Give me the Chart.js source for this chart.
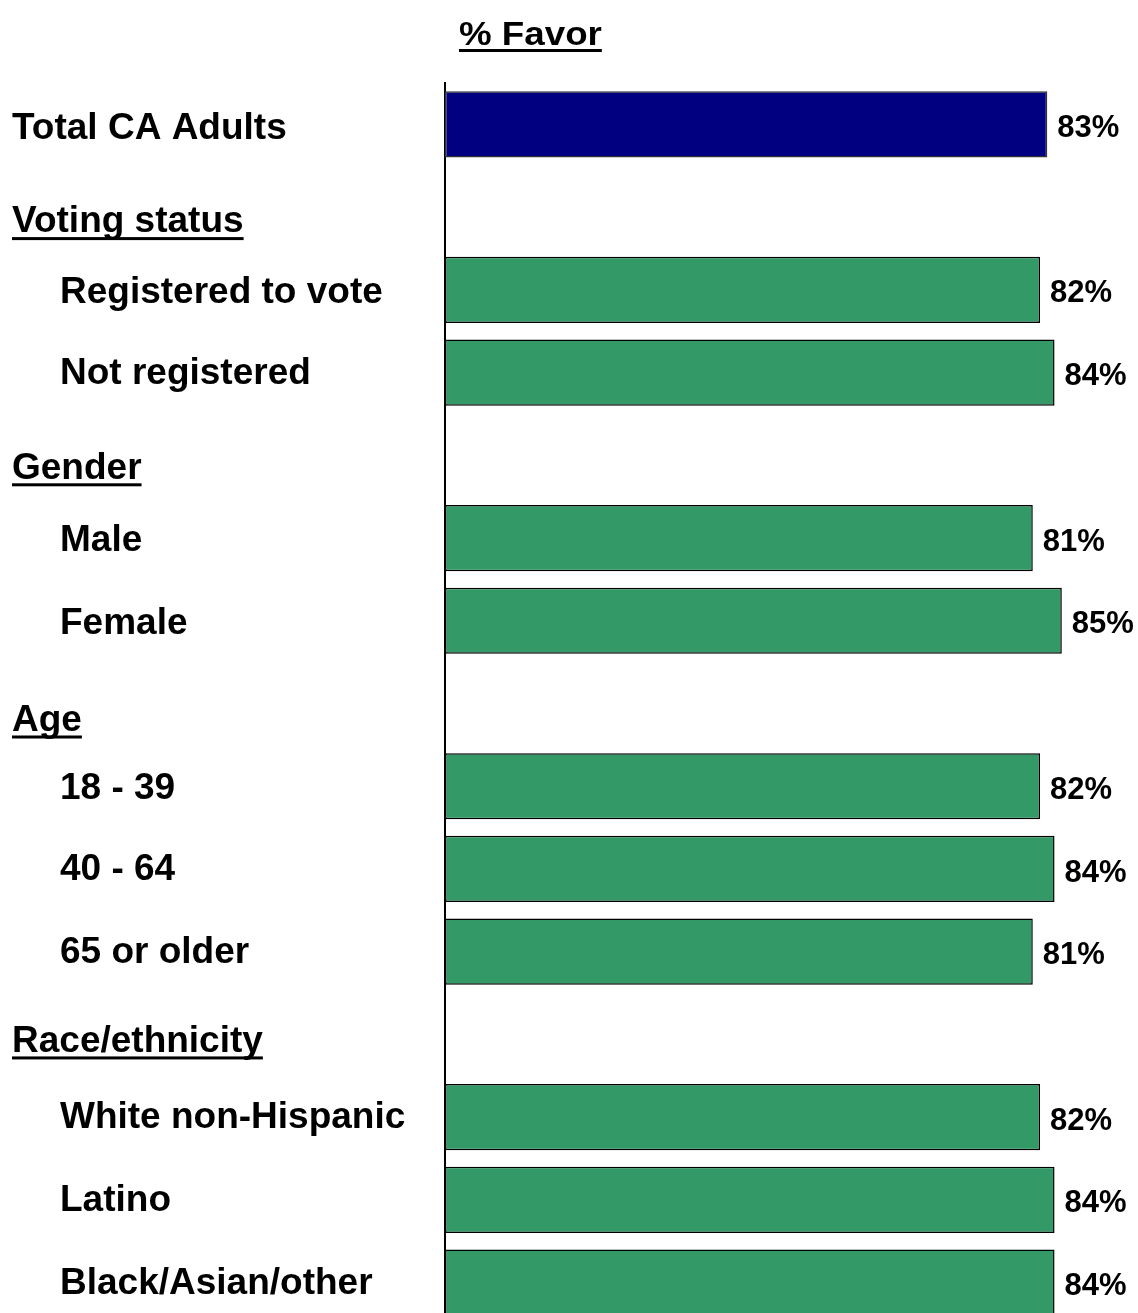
<!DOCTYPE html>
<html lang="en">
<head>
    <meta charset="UTF-8">
    <title>% Favor</title>
    <script src="https://cdn.jsdelivr.net/npm/chart.js"></script>
    <style>
        html, body {
            margin: 0;
            padding: 0;
            background: #ffffff;
            overflow: hidden;
        }

        .wrap {
            position: relative;
            width: 1138px;
            height: 1324px;
        }

        .titulo {
            position: absolute;
            left: 459px;
            top: 16px;
            font: bold 34px "Liberation Sans", Arial, sans-serif;
            line-height: 34px;
            text-decoration: underline;
            text-decoration-thickness: 3px;
            text-underline-offset: 4px;
            transform: scaleX(1.08);
            transform-origin: left top;
            white-space: nowrap;
        }
    </style>
</head>
<body>
    <div class="wrap">
        <div class="titulo">% Favor</div>
        <canvas id="grafico" width="1138" height="1324"></canvas>
    </div>

    <script>
        // categorias (de cima para baixo) e % a favor; null = linha de cabeçalho
        const categorias = ['Total CA Adults', 'Voting status', 'Registered to vote', 'Not registered',
            'Gender', 'Male', 'Female', 'Age', '18 - 39', '40 - 64', '65 or older',
            'Race/ethnicity', 'White non-Hispanic', 'Latino', 'Black/Asian/other'];
        const favor = [83, null, 82, 84, null, 81, 85, null, 82, 84, 81, null, 82, 84, 84];
        const cabecalho = [false, true, false, false, true, false, false, true, false, false, false, true, false, false, false];

        // layout dos rótulos: recuo à esquerda e ajuste vertical
        const recuo = [12, 12, 60, 60, 12, 60, 60, 12, 60, 60, 60, 12, 60, 60, 60];
        const ajuste = [4, 15, 3, 1, 13, 3, 3, 17, 3, 1, 1, 7, 1, 1, 1];

        const fonte = '"Liberation Sans", Arial, sans-serif';

        const rotulos = {
            id: 'rotulos',
            afterDatasetsDraw(chart) {
                const ctx = chart.ctx;
                const x = chart.scales.x;
                const y = chart.scales.y;
                ctx.save();
                ctx.fillStyle = '#000';
                ctx.textBaseline = 'middle';
                categorias.forEach((cat, i) => {
                    const cy = y.getPixelForValue(i) + ajuste[i];
                    ctx.font = 'bold 37px ' + fonte;
                    ctx.fillText(cat, recuo[i], cy);
                    if (cabecalho[i]) {
                        const w = ctx.measureText(cat).width;
                        ctx.fillRect(recuo[i], cy + 15, w, 3);
                    }

                    if (favor[i] !== null) {
                        ctx.font = 'bold 31px ' + fonte;
                        ctx.fillText(favor[i] + '%', x.getPixelForValue(favor[i]) + 10, y.getPixelForValue(i) + 4);
                    }
                });
                ctx.restore();
            }
        };

        const grafico = new Chart(document.getElementById('grafico'), {
            type: 'bar',
            data: {
                labels: categorias,
                datasets: [{
                    data: favor,
                    backgroundColor: favor.map((v, i) => i === 0 ? '#000080' : '#339966'),
                    borderColor: favor.map((v, i) => i === 0 ? '#333333' : '#000000'),
                    borderWidth: 1.5,
                    borderSkipped: false,
                    barPercentage: 0.8,
                    categoryPercentage: 1
                }]
            },
            options: {
                indexAxis: 'y',
                responsive: false,
                animation: false,
                layout: { padding: { top: 83, right: 0, bottom: 0, left: 0 } },
                plugins: {
                    legend: { display: false },
                    tooltip: { enabled: false }
                },
                scales: {
                    x: { display: false, min: 0, max: 95.5 },
                    y: {
                        afterFit: scale => { scale.width = 445; },
                        ticks: { display: false },
                        grid: { display: false },
                        border: { display: true, color: '#000000', width: 2 }
                    }
                }
            },
            plugins: [rotulos]
        });
    </script>
</body>
</html>
